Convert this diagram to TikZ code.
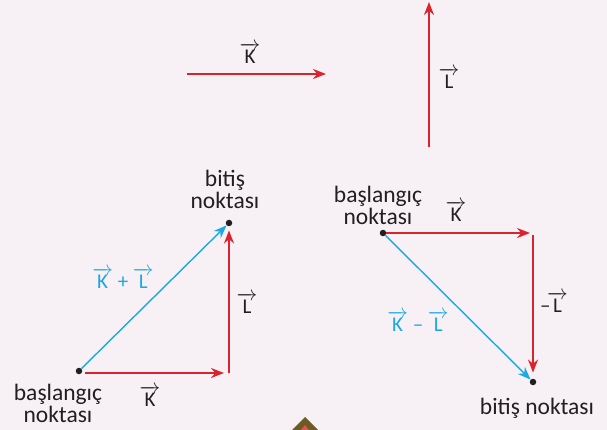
\documentclass[tikz,border=0pt]{standalone}
\usepackage{amsmath}
\usepackage{fontspec}
\setmainfont{Carlito}
\usetikzlibrary{arrows.meta}
\definecolor{bg}{HTML}{F7F0F5}
\definecolor{vred}{HTML}{D9232D}
\definecolor{vblue}{HTML}{1BA9E1}
\definecolor{txt}{HTML}{231F20}
\definecolor{brn}{HTML}{6E5B24}
\newcommand{\vk}[1]{$\overrightarrow{\text{#1}}$}
\begin{document}
\begin{tikzpicture}[x=1pt,y=-1pt,
  redvec/.style={draw=vred,line width=1.8pt,-{Stealth[length=13pt,width=10pt]}},
  bluevec/.style={draw=vblue,line width=1.4pt,-{Stealth[length=13pt,width=10pt]}},
  lbl/.style={text=txt,font=\fontsize{21}{22}\selectfont,inner sep=0pt},
  tlbl/.style={text=txt,font=\fontsize{23.5}{22}\selectfont,inner sep=0pt,align=center},
  blbl/.style={text=vblue,font=\fontsize{21}{22}\selectfont,inner sep=0pt},
  pt/.style={circle,fill=txt,inner sep=0pt,minimum size=6.5pt}]
\fill[bg] (0,0) rectangle (607,430);
\useasboundingbox (0,0) rectangle (607,430);
% top free vectors
\coordinate (k1) at (187,74);
\coordinate (k2) at (326,74);
\draw[redvec] (k1) -- (k2);
\node[lbl] (klab) at (250,53) {\vk{K}};
\coordinate (l1) at (429,147);
\coordinate (l2) at (429,2);
\draw[redvec] (l1) -- (l2);
\node[lbl] (llab) at (449,78) {\vk{L}};
% left triangle
\node[pt] (A) at (79,371) {};
\coordinate (B) at (229,373);
\node[pt] (C) at (229,223) {};
\draw[redvec] ([xshift=3pt]A.east |- B) -- ([xshift=-5pt]B);
\draw[redvec] (B) -- ([yshift=-4pt]C.south);
\draw[bluevec] (A) -- (C);
\node[tlbl] (Atxt) at (58,403) {başlangıç\\noktası};
\node[tlbl] (Ctxt) at (225,189) {bitiş\\noktası};
\node[blbl] (sum) at (123,278) {\vk{K} + \vk{L}};
\node[lbl] (lL) at (247,303) {\vk{L}};
\node[lbl] (lK) at (150,396) {\vk{K}};
% right triangle
\node[pt] (D) at (383,233) {};
\coordinate (E) at (533,233);
\node[pt] (F) at (533,382) {};
\draw[redvec] (D) -- ([xshift=-3pt]E);
\draw[redvec] ([yshift=-2pt]E) -- ([yshift=6pt]F.north);
\draw[bluevec] (D) -- (F);
\node[tlbl] (Dtxt) at (378,205) {başlangıç\\noktası};
\node[tlbl] (Ftxt) at (537,408) {bitiş noktası};
\node[lbl] (rK) at (456,211) {\vk{K}};
\node[lbl] (rL) at (554,302) {–\!\vk{L}};
\node[blbl] (diff) at (418,321) {\vk{K} – \vk{L}};
% partial diamond at bottom
\fill[brn] (305,417) -- (318,430) -- (292,430) -- cycle;
\fill[vred!70!pink] (305,425) -- (309,430) -- (301,430) -- cycle;
\end{tikzpicture}
\end{document}
